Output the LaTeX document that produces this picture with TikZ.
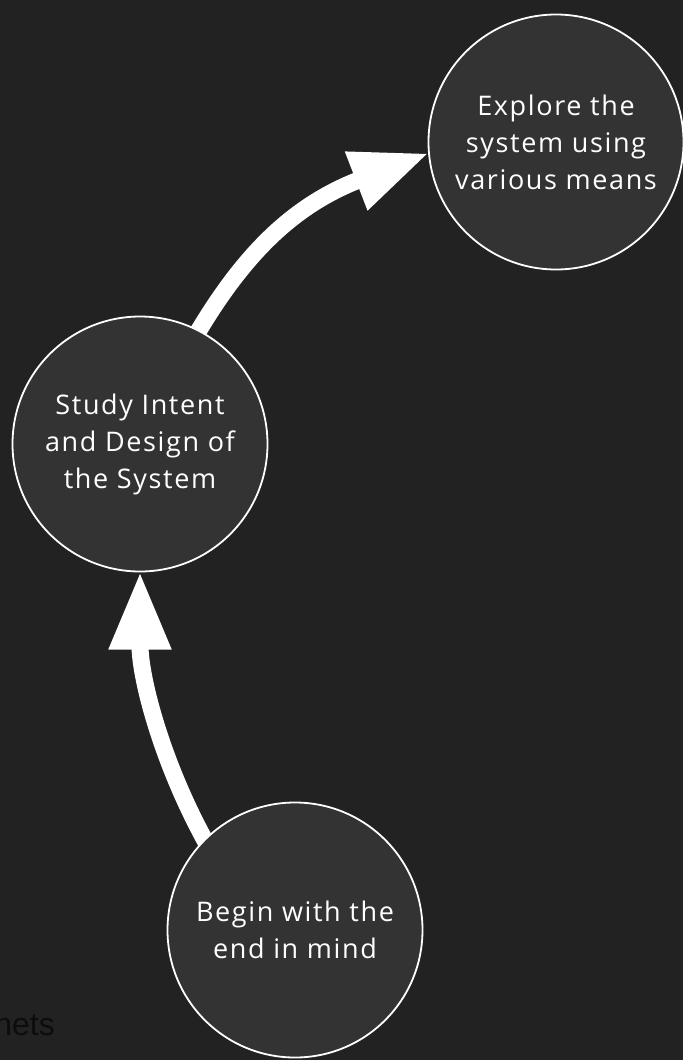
\documentclass[tikz,border=0pt]{standalone}
\usepackage{fontspec}
\usetikzlibrary{arrows.meta,calc}
\newfontfamily\labelfont[LetterSpace=6]{Open Sans}
\newfontfamily\notefont{Liberation Sans}
\definecolor{canvasbg}{HTML}{222222}
\definecolor{stagefill}{HTML}{333333}
\definecolor{notecol}{HTML}{0D0D0D}
\pgfdeclarelayer{back}
\pgfdeclarelayer{flows}
\pgfsetlayers{back,flows,main}
\tikzset{
  stage/.style={circle, draw=white, line width=1.8pt, fill=stagefill,
    minimum size=255pt, inner sep=0pt, outer sep=0pt, align=center,
    text=white, font=\labelfont\fontsize{27}{37}\selectfont},
  flow/.style={draw=white, line width=17pt,
    -{Triangle[length=78pt,width=58pt]}}
}
\begin{document}
\begin{tikzpicture}[x=1pt,y=-1pt]
\begin{pgfonlayer}{back}
  \fill[canvasbg] (0,0) rectangle (683,1060);
\end{pgfonlayer}
\useasboundingbox (0,0) rectangle (683,1060);

% the three stages
\node[stage] (c1) at (556,142) {Explore the\\system using\\various means};
\node[stage] (c2) at (140,444) {Study Intent\\and Design of\\the System};
\node[stage] (c3) at (295,930) {Begin with the\\end in mind};

% curved connectors, drawn beneath the circles
\begin{pgfonlayer}{flows}
  \draw[flow] ($(c3.center)+(137:114pt)$)
    .. controls ($(c3.center)+(137:114pt)+(120:96pt)$)
    and ($(c2.south)+(270:108pt)$) .. (c2.south);
  \draw[flow] ($(c2.center)+(63:114pt)$)
    .. controls ($(c2.center)+(63:114pt)+(60:95pt)$)
    and ($(c1.185)+(201:150pt)$) .. (c1.185);
\end{pgfonlayer}

% stray caption at the lower left edge
\node[anchor=base east, inner sep=0pt, text=notecol,
  font=\notefont\fontsize{32}{38}\selectfont] (note) at (55,1035) {nets};
\end{tikzpicture}
\end{document}
